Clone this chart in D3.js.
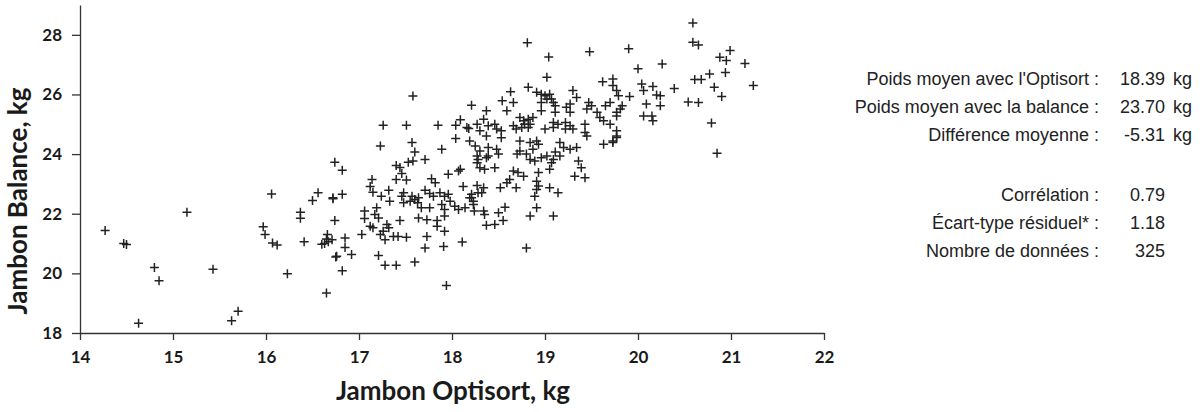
<!DOCTYPE html>
<html>
<head>
<meta charset="utf-8">
<script src="https://cdn.jsdelivr.net/npm/d3@7"></script>
<style>
  body { margin: 0; background: #fff; }
  svg { display: block; }
</style>
</head>
<body>
<svg id="chart" width="1203" height="412"></svg>
<script>
// weights: [optisort, balance]
let points = [
  [14.27,21.44],[14.47,21.00],[14.50,20.97],[15.15,22.05],[14.80,20.20],[14.85,19.75],[14.63,18.33],
  [15.43,20.14],[15.63,18.41],[15.70,18.73],[15.97,21.56],[15.99,21.30],[16.06,22.66],[16.07,21.02],
  [16.12,20.95],[16.23,19.99],[16.37,22.05],[16.37,21.85],[16.41,21.06],[16.50,22.44],[16.56,22.70],
  [16.72,22.50],[16.74,21.77],[16.66,21.30],[16.65,21.15],[16.63,21.00],[16.67,21.06],[16.60,20.98],
  [16.75,20.55],[16.65,19.34],
  [17.58,25.95],[18.21,25.64],[17.26,24.97],[17.51,24.97],[17.85,24.97],[18.04,24.97],[18.09,25.15],
  [18.16,24.89],[18.18,24.86],[18.27,25.00],[18.04,24.52],[18.19,24.44],[17.23,24.27],[17.57,24.39],
  [17.89,24.16],[17.60,24.07],[17.71,23.82],[17.53,23.73],[17.58,23.77],[17.40,23.62],[17.44,23.55],
  [17.46,23.35],[16.74,23.73],[16.82,23.46],[17.14,23.15],[17.40,23.15],[17.51,23.13],[17.12,22.91],
  [17.15,22.72],[17.24,22.59],[17.32,22.79],[16.82,22.65],[17.78,23.17],[17.82,23.04],[17.96,23.32],
  [18.07,23.43],[18.09,23.49],[18.27,23.71],[18.28,23.82],[18.12,22.91],[18.27,22.95],[17.48,22.70],
  [17.57,22.59],[17.64,22.54],[17.71,22.79],[17.76,22.68],[17.87,22.70],[17.92,22.59],[17.96,22.65],
  [18.21,22.65],[18.28,22.70],
  [16.72,22.54],[17.33,22.42],[17.46,22.59],[17.48,22.37],[17.55,22.42],[17.60,22.48],[17.63,22.37],
  [17.67,22.20],[17.76,22.20],[17.80,22.59],[17.89,22.31],[17.92,22.14],[17.98,22.42],[18.03,22.25],
  [18.07,22.14],[18.14,22.20],[18.21,22.54],[18.23,22.31],[18.24,22.09],[17.06,22.09],[17.19,22.20],
  [17.21,21.86],[17.06,21.84],[17.17,21.97],[17.12,21.58],[17.15,21.53],[17.30,21.64],[17.32,21.53],
  [17.26,21.41],[17.23,21.30],[17.03,21.30],[17.44,21.77],[17.64,21.86],[17.73,21.80],[17.84,21.77],
  [17.92,21.92],[17.84,21.58],[17.92,21.41],[17.37,21.24],[17.42,21.24],[17.51,21.21],[17.28,21.13],
  [16.85,21.19],[16.71,21.13],[16.85,20.87],[16.92,20.63],[16.76,20.57],[17.73,21.24],[17.71,20.85],
  [17.91,20.90],[18.11,21.05],[17.21,20.60],[17.28,20.27],[17.40,20.27],[17.60,20.38],[16.82,20.09],
  [17.94,19.59],
  [18.81,27.73],[19.04,27.26],[19.48,27.43],[19.02,26.58],[18.82,26.24],[18.63,26.09],[18.54,25.79],
  [18.66,25.73],[18.59,25.45],[18.91,26.07],[18.96,26.01],[19.00,25.96],[19.05,26.01],[19.02,25.85],
  [19.07,25.85],[18.96,25.73],[19.09,25.73],[19.11,25.62],[19.30,26.13],[19.34,25.90],[19.27,25.68],
  [19.23,25.57],[19.27,25.40],[18.96,25.45],[19.11,25.40],[19.47,25.73],[19.50,25.62],[19.56,25.40],
  [19.45,25.51],[19.62,26.43],[19.73,26.52],[19.73,26.30],[19.77,26.13],[19.79,25.96],[19.65,25.62],
  [19.70,25.73],[19.77,25.40],[19.59,25.23],[19.63,25.12],[19.77,24.78],[18.37,25.45],[18.34,25.17],
  [18.30,24.78],[18.39,24.95],[18.37,24.61],[18.48,24.84],[18.53,24.78],[18.53,24.55],[18.46,25.00],
  [18.73,25.23],[18.77,25.12],[18.82,25.17],[18.87,25.23],[18.78,25.00],[18.84,25.00],[18.75,24.89],
  [18.82,24.89],[18.66,24.95],[18.69,24.84],[19.09,25.06],[19.14,25.00],[19.22,25.06],[19.27,24.95],
  [19.22,24.84],[19.30,24.84],[19.43,25.00],[19.43,24.72],[19.00,24.84],[19.09,24.89],[18.73,24.44],
  [18.84,24.39],[18.91,24.44],[18.93,24.33],[18.87,24.16],[18.73,24.10],[18.80,24.00],[19.16,24.39],
  [19.20,24.22],[19.27,24.16],[19.34,24.22],[19.45,24.61],[19.63,24.33],[19.73,24.44],[19.77,24.61],
  [18.25,24.27],[18.30,24.10],[18.39,24.22],[18.48,24.16],[18.50,24.00],[18.39,23.94],[18.27,23.94],
  [19.11,24.07],[19.16,23.94],[19.02,23.94],[19.09,23.82],
  [18.37,23.88],[18.70,24.00],[18.84,23.82],[18.89,23.77],[18.96,23.88],[19.07,23.71],[19.05,23.49],
  [18.30,23.54],[18.35,23.49],[18.46,23.54],[19.36,23.77],[19.39,23.54],[19.32,23.26],[19.43,23.21],
  [18.66,23.43],[18.71,23.38],[18.77,23.26],[18.62,23.15],[18.59,23.04],[18.69,22.87],[18.52,22.87],
  [18.93,23.38],[18.91,23.09],[18.93,22.93],[18.91,22.81],[18.89,22.59],[19.05,22.87],[19.14,22.70],
  [18.34,22.87],[18.32,22.70],[18.23,22.42],[18.19,22.54],[18.91,22.20],[18.84,21.92],[19.09,21.92],
  [18.57,22.22],[18.50,22.03],[18.55,21.77],[18.46,21.64],[18.37,21.61],[18.34,22.09],[18.35,21.97],
  [18.80,20.85],
  [20.59,28.40],[20.59,27.75],[20.65,27.66],[19.90,27.53],[20.99,27.47],[20.88,27.25],[20.95,27.14],
  [20.94,26.74],[21.15,27.04],[21.24,26.30],[20.00,26.86],[20.26,27.02],[20.77,26.69],[20.61,26.50],
  [20.68,26.50],[20.82,26.24],[20.90,25.93],[20.39,26.20],[20.54,25.75],[20.65,25.73],[20.79,25.04],
  [19.91,25.93],[20.04,26.35],[20.06,26.13],[20.16,26.27],[20.20,25.98],[20.24,25.96],[20.24,25.62],
  [20.09,25.68],[20.06,25.28],[20.15,25.28],[20.16,25.12],[19.83,25.62],[19.81,25.51],[19.77,25.28],
  [19.70,25.00],[19.77,24.56],[19.73,24.39],[20.85,24.03]
];

let xTicks = [14, 15, 16, 17, 18, 19, 20, 21, 22];
let yTicks = [18, 20, 22, 24, 26, 28];

let statLabels = ["Poids moyen avec l'Optisort :", "Poids moyen avec la balance :", "Différence moyenne :",
                  "Corrélation :", "Écart-type résiduel* :", "Nombre de données :"];
let statValues = ["18.39", "23.70", "-5.31", "0.79", "1.18", "325"];
let statUnits = ["kg", "kg", "kg", "", "", ""];

let svg = d3.select("#chart");

let x = d3.scaleLinear().domain([14, 22]).range([80, 824]);
let y = d3.scaleLinear().domain([18, 29]).range([333, 5]);

// x axis
let gx = svg.append("g")
  .attr("transform", "translate(0,333)")
  .call(d3.axisBottom(x).tickValues(xTicks).tickSize(7).tickPadding(11).tickSizeOuter(0));

// y axis
let gy = svg.append("g")
  .attr("transform", "translate(80,0)")
  .call(d3.axisLeft(y).tickValues(yTicks).tickSize(8).tickPadding(10).tickSizeOuter(0));

svg.selectAll(".domain, .tick line").attr("stroke", "#333").attr("stroke-width", 1.3);
svg.selectAll(".tick text")
  .style("font-family", "Lato, sans-serif")
  .style("font-weight", "bold")
  .style("font-size", "17px")
  .attr("fill", "#1a1a1a");

// axis titles
svg.append("text")
  .attr("x", 453)
  .attr("y", 400)
  .attr("text-anchor", "middle")
  .style("font-family", "Lato, sans-serif")
  .style("font-weight", "bold")
  .style("font-size", "26px")
  .attr("fill", "#1a1a1a")
  .text("Jambon Optisort, kg");

svg.append("text")
  .attr("transform", "translate(27,201) rotate(-90)")
  .attr("text-anchor", "middle")
  .style("font-family", "Lato, sans-serif")
  .style("font-weight", "bold")
  .style("font-size", "26px")
  .attr("fill", "#1a1a1a")
  .text("Jambon Balance, kg");

// the + markers
svg.append("g")
  .selectAll("path")
  .data(points)
  .join("path")
  .attr("transform", d => "translate(" + x(d[0]) + "," + y(d[1]) + ")")
  .attr("d", "M-4.5,0H4.5M0,-4.5V4.5")
  .attr("stroke", "#222")
  .attr("stroke-width", 1.5)
  .attr("fill", "none");

// stats on the right
let rowY = [85, 113, 141, 201, 229, 257];
let stats = svg.append("g")
  .style("font-family", "'Liberation Sans', Arial, sans-serif")
  .style("font-size", "18px")
  .attr("fill", "#222");

stats.selectAll("text.lab")
  .data(statLabels)
  .join("text")
  .attr("class", "lab")
  .attr("x", 1099)
  .attr("y", (d, i) => rowY[i])
  .attr("text-anchor", "end")
  .text(d => d);

stats.selectAll("text.val")
  .data(statValues)
  .join("text")
  .attr("class", "val")
  .attr("x", 1165)
  .attr("y", (d, i) => rowY[i])
  .attr("text-anchor", "end")
  .text(d => d);

stats.selectAll("text.unit")
  .data(statUnits)
  .join("text")
  .attr("class", "unit")
  .attr("x", 1173)
  .attr("y", (d, i) => rowY[i])
  .text(d => d);
</script>
</body>
</html>
